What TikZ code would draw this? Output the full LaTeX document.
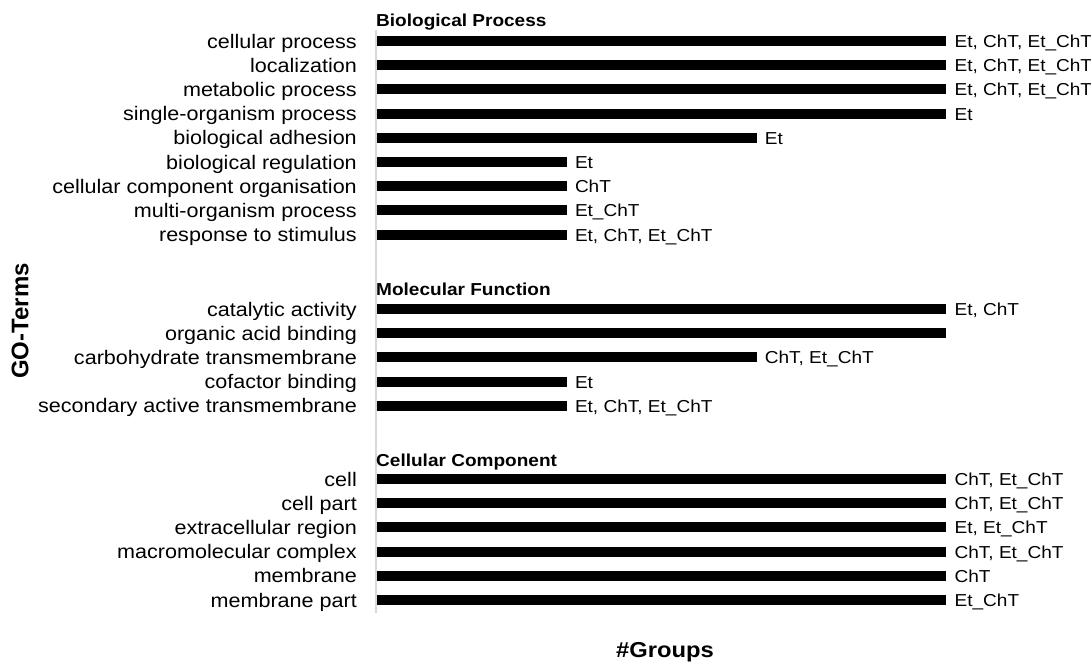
\documentclass[tikz,border=0pt]{standalone}
\usepackage{fontspec}
\setmainfont[FakeStretch=1.1]{Liberation Sans}
\newfontfamily\axisfont{Liberation Sans}
\usepackage{xcolor}
\usepackage{tikz}
\usetikzlibrary{positioning}
\definecolor{cAxis}{RGB}{217,217,217}

\begin{document}
\begin{tikzpicture}[x=1pt, y=-1pt,
		termlabel/.style={anchor=base east, inner sep=0pt, font=\fontsize{19.6}{22}\selectfont},
		grouplabel/.style={anchor=base west, inner sep=0pt, font=\fontsize{17.3}{19}\selectfont},
		headlabel/.style={anchor=base west, inner sep=0pt, font=\fontsize{17.3}{20}\selectfont\bfseries}]
				\useasboundingbox (0,0) rectangle (1091,662);
				\draw[cAxis, line width=1.2pt] (376,30) -- (376,613);
				\node[headlabel] (bp) at (376,26) {Biological Process};
				\node[headlabel] (mf) at (376,295) {Molecular Function};
				\node[headlabel] (cc) at (376,466) {Cellular Component};
				\foreach \y/\lbl/\len/\grp [count=\i] in {41/cellular process/3/{Et, ChT, Et\_ChT}, 65.2/localization/3/{Et, ChT, Et\_ChT}, 89.4/metabolic process/3/{Et, ChT, Et\_ChT}, 113.6/single-organism process/3/Et, 137.8/biological adhesion/2/Et, 162/biological regulation/1/Et, 186.2/cellular component organisation/1/ChT, 210.4/multi-organism process/1/Et\_ChT, 234.6/response to stimulus/1/{Et, ChT, Et\_ChT}}
				{
					\node[termlabel] (bp\i) at (357,\y+7) {\lbl};
					\fill (377,\y-5) rectangle (377+189.8*\len,\y+5);
					\node[grouplabel] (bpg\i) at (385+189.8*\len,\y+6.5) {\grp};
				}
				\foreach \y/\lbl/\len/\grp [count=\i] in {309/catalytic activity/3/{Et, ChT}, 333.2/organic acid binding/3/{}, 357.4/carbohydrate transmembrane/2/{ChT, Et\_ChT}, 381.6/cofactor binding/1/Et, 405.8/secondary active transmembrane/1/{Et, ChT, Et\_ChT}}
				{
					\node[termlabel] (mf\i) at (357,\y+7) {\lbl};
					\fill (377,\y-5) rectangle (377+189.8*\len,\y+5);
					\node[grouplabel] (mfg\i) at (385+189.8*\len,\y+6.5) {\grp};
				}
				\foreach \y/\lbl/\len/\grp [count=\i] in {479/cell/3/{ChT, Et\_ChT}, 503.2/cell part/3/{ChT, Et\_ChT}, 527.4/extracellular region/3/{Et, Et\_ChT}, 551.6/macromolecular complex/3/{ChT, Et\_ChT}, 575.8/membrane/3/ChT, 600/membrane part/3/Et\_ChT}
				{
					\node[termlabel] (cc\i) at (357,\y+7) {\lbl};
					\fill (377,\y-5) rectangle (377+189.8*\len,\y+5);
					\node[grouplabel] (ccg\i) at (385+189.8*\len,\y+6.5) {\grp};
				}
				\node[rotate=90, font=\axisfont\fontsize{24}{26}\selectfont\bfseries] (goterms) at (20,321) {GO-Terms};
				\node[anchor=base, font=\fontsize{21.6}{24}\selectfont\bfseries] (groups) at (665,657) {\#Groups};
			\end{tikzpicture}
\end{document}
